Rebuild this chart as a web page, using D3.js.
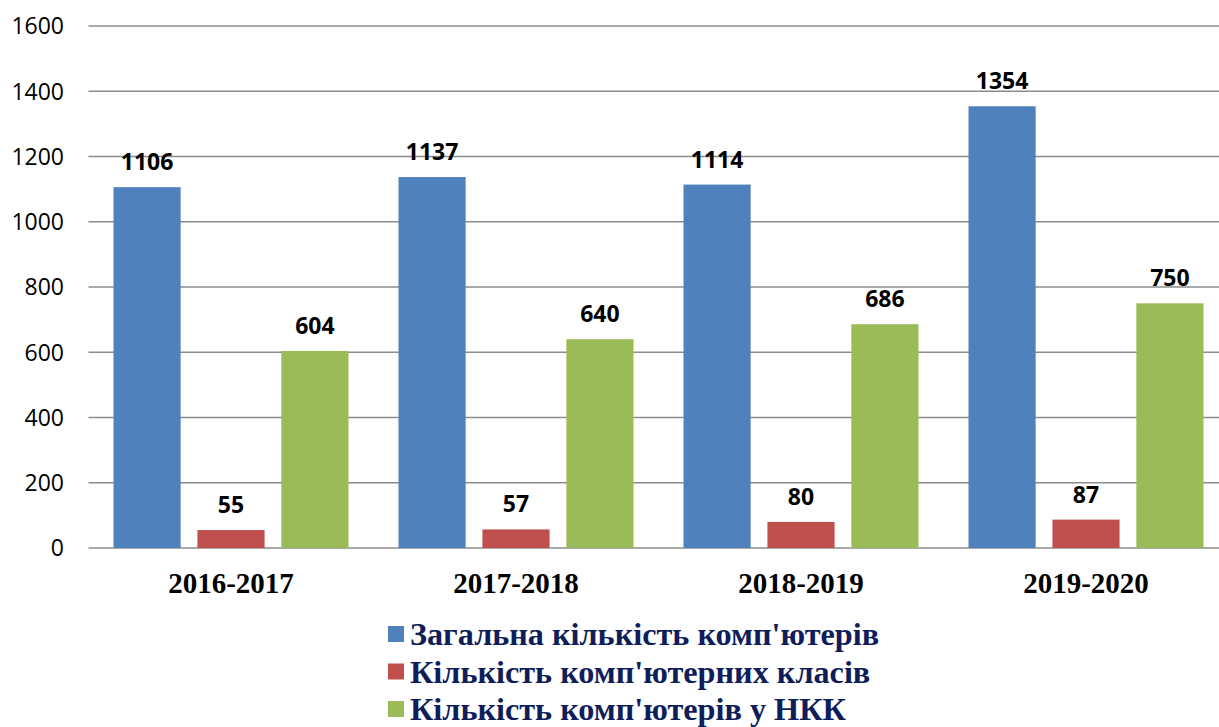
<!DOCTYPE html>
<html><head><meta charset="utf-8">
<script src="https://cdn.jsdelivr.net/npm/d3@7"></script>
<style>body{margin:0;background:#fff}svg{display:block}</style>
</head><body>
<svg id="c" width="1219" height="727"></svg>
<script>
const categories = ["2016-2017","2017-2018","2018-2019","2019-2020"];
const seriesNames = ["Загальна кількість комп'ютерів","Кількість комп'ютерних класів","Кількість комп'ютерів у НКК"];
const totalComputers = [1106,1137,1114,1354];
const computerClasses = [55,57,80,87];
const computersNKK = [604,640,686,750];
const yTicks = [0,200,400,600,800,1000,1200,1400,1600];
const colors = ["#4F81BD","#C0504D","#9BBB59"];

const series = [totalComputers, computerClasses, computersNKK];
const svg = d3.select("#c");
const x0 = 88.5, x1 = 1228.5, yTop = 26, yBot = 548;
const y = d3.scaleLinear().domain([0,1600]).range([yBot,yTop]);
const xb = d3.scaleBand().domain(categories).range([x0,x1]).paddingInner(0).paddingOuter(0);
const xs = d3.scaleBand().domain([0,1,2]).range([25, 285-25]).paddingInner(0.2).paddingOuter(0);

// gridlines
svg.append("g").selectAll("line").data(yTicks).join("line")
  .attr("x1",x0).attr("x2",1219).attr("y1",d=>y(d)).attr("y2",d=>y(d))
  .attr("stroke","#8c8c8c").attr("stroke-width",1.6);

// y tick labels
svg.append("g").selectAll("text").data(yTicks).join("text")
  .attr("x",64).attr("y",d=>y(d)).attr("dy","0.36em").attr("text-anchor","end")
  .attr("font-family","Open Sans, Liberation Sans, sans-serif").attr("font-size",23).attr("fill","#000")
  .text(d=>d);

// bars
const g = svg.append("g");
categories.forEach((c,i)=>{
  series.forEach((s,k)=>{
    const bx = xb(c)+xs(k), bw = xs.bandwidth();
    g.append("rect").attr("x",bx).attr("y",y(s[i])).attr("width",bw).attr("height",yBot-y(s[i])).attr("fill",colors[k]);
    g.append("text").attr("x",bx+bw/2).attr("y",y(s[i])-17).attr("text-anchor","middle")
      .attr("font-family","Open Sans, Liberation Sans, sans-serif").attr("font-weight","bold").attr("font-size",23)
      .attr("fill","#000").text(s[i]);
  });
});

// category labels
svg.append("g").selectAll("text").data(categories).join("text")
  .attr("x",d=>xb(d)+142.5).attr("y",593).attr("text-anchor","middle")
  .attr("font-family","Liberation Serif, Times New Roman, serif").attr("font-weight","bold").attr("font-size",29)
  .attr("fill","#000").text(d=>d);

// legend
const lg = svg.append("g");
seriesNames.forEach((n,k)=>{
  const cy = 634 + k*37.5;
  lg.append("rect").attr("x",388).attr("y",cy-8).attr("width",16).attr("height",16).attr("fill",colors[k]);
  lg.append("text").attr("transform",`translate(410,${cy+11}) scale(1.04,1)`)
    .attr("font-family","Liberation Serif, Times New Roman, serif")
    .attr("font-weight","bold").attr("font-size",31).attr("fill","#0F1E5A").text(n);
});
</script>
</body></html>
